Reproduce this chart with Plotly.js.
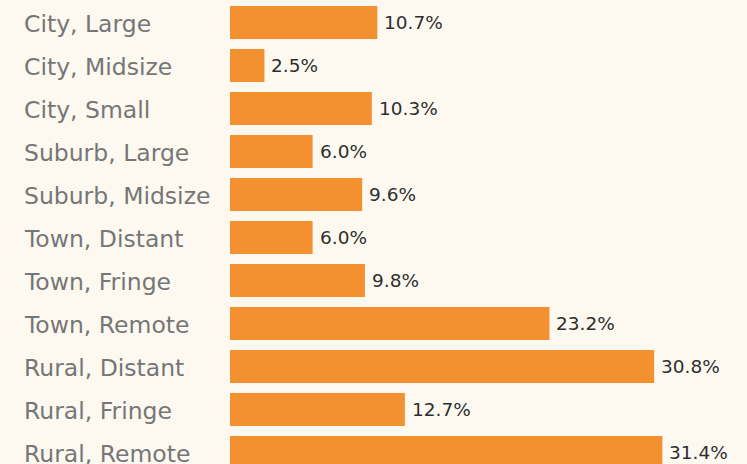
<!DOCTYPE html>
<html>
<head>
<meta charset="utf-8">
<script src="https://cdn.plot.ly/plotly-3.0.1.min.js"></script>
<style>html,body{margin:0;padding:0;background:#fdf9f1;}#chart{width:747px;height:464px;}</style>
</head>
<body>
<div id="chart"></div>
<script>
const categories = ["City, Large","City, Midsize","City, Small","Suburb, Large","Suburb, Midsize","Town, Distant","Town, Fringe","Town, Remote","Rural, Distant","Rural, Fringe","Rural, Remote"];
const values = [10.7, 2.5, 10.3, 6.0, 9.6, 6.0, 9.8, 23.2, 30.8, 12.7, 31.4];

const W = 747, L = 230;
const plotW = W - L;
const pxPerUnit = 13.77;

const trace = {
  type: 'bar',
  orientation: 'h',
  y: categories,
  x: values,
  width: 0.767,
  marker: {color: '#f39130'},
  hoverinfo: 'skip'
};

const catAnnotations = categories.map(c => ({
  xref: 'paper', yref: 'y',
  x: (22 - L) / plotW, y: c,
  xanchor: 'left', yanchor: 'middle', yshift: -1,
  text: c, showarrow: false,
  font: {family: 'DejaVu Sans, sans-serif', size: 23.5, color: '#767676'}
}));

const valAnnotations = values.map((v, i) => ({
  xref: 'x', yref: 'y',
  x: v, y: categories[i],
  xanchor: 'left', yanchor: 'middle', xshift: 5,
  text: v.toFixed(1) + '%', showarrow: false,
  font: {family: 'DejaVu Sans, sans-serif', size: 18.5, color: '#2e2e2e'}
}));

const layout = {
  width: W, height: 464,
  margin: {l: L, r: 0, t: 0, b: 0, pad: 0},
  paper_bgcolor: '#fdf9f1',
  plot_bgcolor: '#fdf9f1',
  showlegend: false,
  xaxis: {range: [0, plotW / pxPerUnit], visible: false, fixedrange: true},
  yaxis: {type: 'category', range: [10 + 11.5/43, -22.5/43], showticklabels: false, showgrid: false, zeroline: false, showline: false, ticks: ''},
  annotations: catAnnotations.concat(valAnnotations)
};

Plotly.newPlot('chart', [trace], layout, {displayModeBar: false, staticPlot: true});
</script>
</body>
</html>
